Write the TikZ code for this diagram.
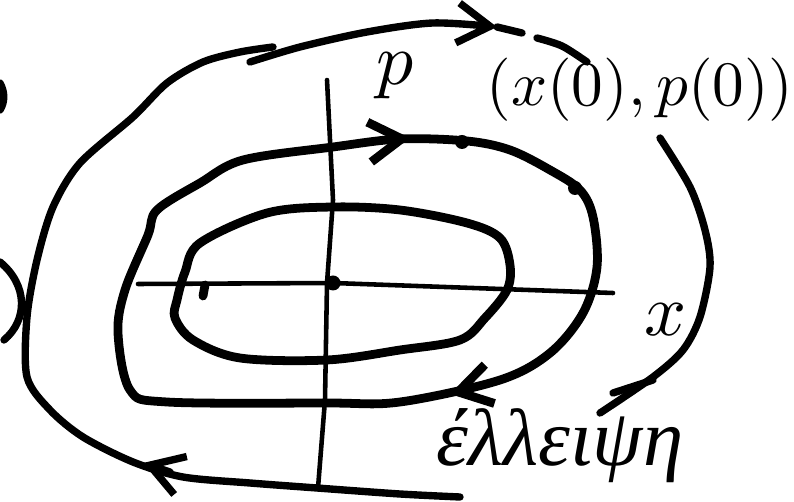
\documentclass[tikz,border=0pt]{standalone}
\usepackage{fontspec}
\usepackage{amsmath}
\usetikzlibrary{arrows.meta}
\newfontfamily\greekfont{Liberation Serif}

\begin{document}
\begin{tikzpicture}[
    x=0.02cm, y=-0.02cm,
    line cap=round,
    line join=round,
    orbit/.style={line width=5pt},
    outer/.style={line width=4.2pt},
    axis/.style={line width=2.6pt},
    tip/.style={-{Straight Barb[length=6.5mm,width=8mm]}}
]
\useasboundingbox (0,0) rectangle (794,502);

% Assi
\draw[axis] (138,284) -- (333,283) -- (613,293);
\draw[axis] (327,80) -- (333,200) -- (327,283) -- (325,400) -- (318,488);
\draw[orbit] (205,285) -- (203,296);
\fill (333,283) circle (7.5);

% Orbita interna
\draw[orbit] plot[smooth cycle, tension=0.55] coordinates {
    (333,207) (400,210) (467,223) (500,238) (510,265) (507,290)
    (485,318) (460,340) (400,350) (327,360) (240,358) (193,340)
    (175,318) (177,300) (185,272) (200,243) (267,213)
};

% Orbita intermedia
\draw[orbit] plot[smooth cycle, tension=0.55] coordinates {
    (157,210) (200,183) (243,160) (333,147) (400,139) (467,141)
    (510,150) (550,170) (580,190) (593,217) (597,267) (583,313)
    (550,353) (500,380) (400,402) (327,403) (167,402) (130,390)
    (118,333) (125,290) (148,235)
};
\draw[orbit, tip] (390,140) -- (410,138);
\draw[orbit, tip] (470,389) -- (450,394);

% Punti
\foreach \x/\y in {
    462/142,
    575/188
}{
    \fill (\x,\y) circle (7);
}

% Orbita esterna
\draw[outer, tip] plot[smooth] coordinates {
    (250,62) (300,47) (367,32) (433,23) (497,27)
};
\draw[outer] (497,27) -- (522,33);
\draw[outer] plot[smooth] coordinates {(537,38) (562,46) (587,62)};
\draw[outer] plot[smooth] coordinates {
    (660,138) (690,187) (705,230) (710,267) (700,317)
    (683,350) (653,377) (600,413)
};
\draw[outer] (613,393) -- (653,380);
\draw[outer] plot[smooth] coordinates {
    (273,47) (240,52) (203,62) (167,83) (133,117) (80,163)
    (53,207) (37,260) (27,317) (27,377) (50,410) (83,437)
    (133,462) (183,477) (250,483) (317,488) (400,494) (460,497)
};
\draw[outer, tip] (170,472) -- (143,463);

% Bordo sinistro
\draw[outer] (0,83) .. controls (5,92) and (5,102) .. (0,110);
\draw[outer] (0,262) .. controls (28,285) and (28,320) .. (4,340);

% Etichette
\node[scale=4.2] at (395,76) {$p$};
\node[scale=4.2] at (666,320) {$x$};
\node[scale=3.6] at (640,90) {$(x(0),p(0))$};
\node at (560,446) {\fontsize{46}{46}\selectfont\greekfont\itshape έλλειψη};

\end{tikzpicture}
\end{document}
